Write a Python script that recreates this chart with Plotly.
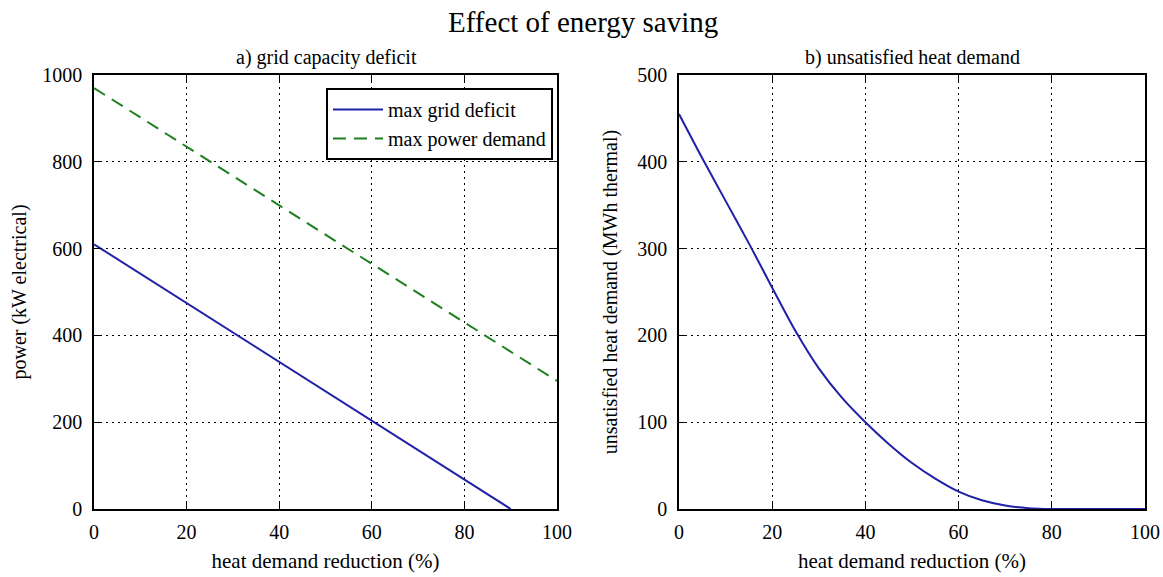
import plotly.graph_objects as go

# ---- data ----
reduction_lin = [0, 10, 20, 30, 40, 50, 60, 70, 80, 90]
max_grid_deficit = [610, 542, 475, 407, 339, 271, 203, 136, 68, 0]

reduction_full = [0, 10, 20, 30, 40, 50, 60, 70, 80, 90, 100]
max_power_demand = [970, 902, 835, 767, 700, 632, 565, 497, 430, 362, 295]

reduction_heat = [0, 5, 10, 15, 20, 25, 30, 35, 40, 45, 50, 55, 60, 65, 70, 75, 80, 85, 90, 95, 100]
unsatisfied_heat = [455, 404, 355, 306, 255, 205, 162, 128, 100, 75, 53, 35, 20, 10, 4, 1, 0, 0, 0, 0, 0]

x_ticks = [0, 20, 40, 60, 80, 100]
y_ticks_left = [0, 200, 400, 600, 800, 1000]
y_ticks_right = [0, 100, 200, 300, 400, 500]

BLUE = "#2020a8"
GREEN = "#1f7f1f"
FONT = "Liberation Serif"
FS = 20

W, H = 1163, 577
def px_x(p):
    return p / W
def px_y(p):
    return 1 - p / H

fig = go.Figure()
fig.add_trace(go.Scatter(x=reduction_lin, y=max_grid_deficit, mode="lines",
                         name="max grid deficit", line=dict(color=BLUE, width=2),
                         xaxis="x", yaxis="y"))
fig.add_trace(go.Scatter(x=reduction_full, y=max_power_demand, mode="lines",
                         name="max power demand", line=dict(color=GREEN, width=2, dash="13px,8px"),
                         xaxis="x", yaxis="y"))
fig.add_trace(go.Scatter(x=reduction_heat, y=unsatisfied_heat, mode="lines",
                         name="unsatisfied heat demand", showlegend=False,
                         line=dict(color=BLUE, width=2, shape="spline", smoothing=0.8),
                         xaxis="x2", yaxis="y2"))

axis_common = dict(showline=True, linecolor="black", linewidth=1.5, mirror="ticks",
                   ticks="inside", ticklen=8, tickwidth=1.2, tickcolor="black",
                   showgrid=True, gridcolor="black", gridwidth=1, griddash="2px,4px",
                   zeroline=False, tickfont=dict(family=FONT, size=FS, color="black"),
                   automargin=False)

ydom = [px_y(509), px_y(75)]
fig.update_layout(
    width=W, height=H,
    margin=dict(l=0, r=0, t=0, b=0),
    paper_bgcolor="white", plot_bgcolor="white",
    font=dict(family=FONT, size=FS, color="black"),
    xaxis=dict(domain=[px_x(94), px_x(557)], range=[0, 100], tickvals=x_ticks, anchor="y",
               ticklabelstandoff=4,
               title=dict(text="heat demand reduction (%)", standoff=12,
                          font=dict(family=FONT, size=21)), **axis_common),
    yaxis=dict(domain=ydom, range=[0, 1000], tickvals=y_ticks_left, anchor="x",
               ticklabelstandoff=6,
               title=dict(text="power (kW electrical)", standoff=10,
                          font=dict(family=FONT, size=FS)), **axis_common),
    xaxis2=dict(domain=[px_x(679), px_x(1145)], range=[0, 100], tickvals=x_ticks, anchor="y2",
                ticklabelstandoff=4,
                title=dict(text="heat demand reduction (%)", standoff=12,
                           font=dict(family=FONT, size=21)), **axis_common),
    yaxis2=dict(domain=ydom, range=[0, 500], tickvals=y_ticks_right, anchor="x2",
                ticklabelstandoff=6,
                title=dict(text="unsatisfied heat demand (MWh thermal)", standoff=14,
                           font=dict(family=FONT, size=FS)), **axis_common),
    legend=dict(x=px_x(553), xanchor="right", y=px_y(88), yanchor="top",
                bgcolor="white", bordercolor="black", borderwidth=2, itemwidth=50,
                font=dict(family=FONT, size=FS, color="black")),
    annotations=[
        dict(text="Effect of energy saving", x=px_x(583), y=px_y(22), xref="paper", yref="paper",
             showarrow=False, xanchor="center", yanchor="middle",
             font=dict(family=FONT, size=29, color="black")),
        dict(text="a) grid capacity deficit", x=px_x(326), y=px_y(57), xref="paper", yref="paper",
             showarrow=False, xanchor="center", yanchor="middle",
             font=dict(family=FONT, size=FS, color="black")),
        dict(text="b) unsatisfied heat demand", x=px_x(912), y=px_y(57), xref="paper", yref="paper",
             showarrow=False, xanchor="center", yanchor="middle",
             font=dict(family=FONT, size=FS, color="black")),
    ],
)

fig.write_html("out.html")
